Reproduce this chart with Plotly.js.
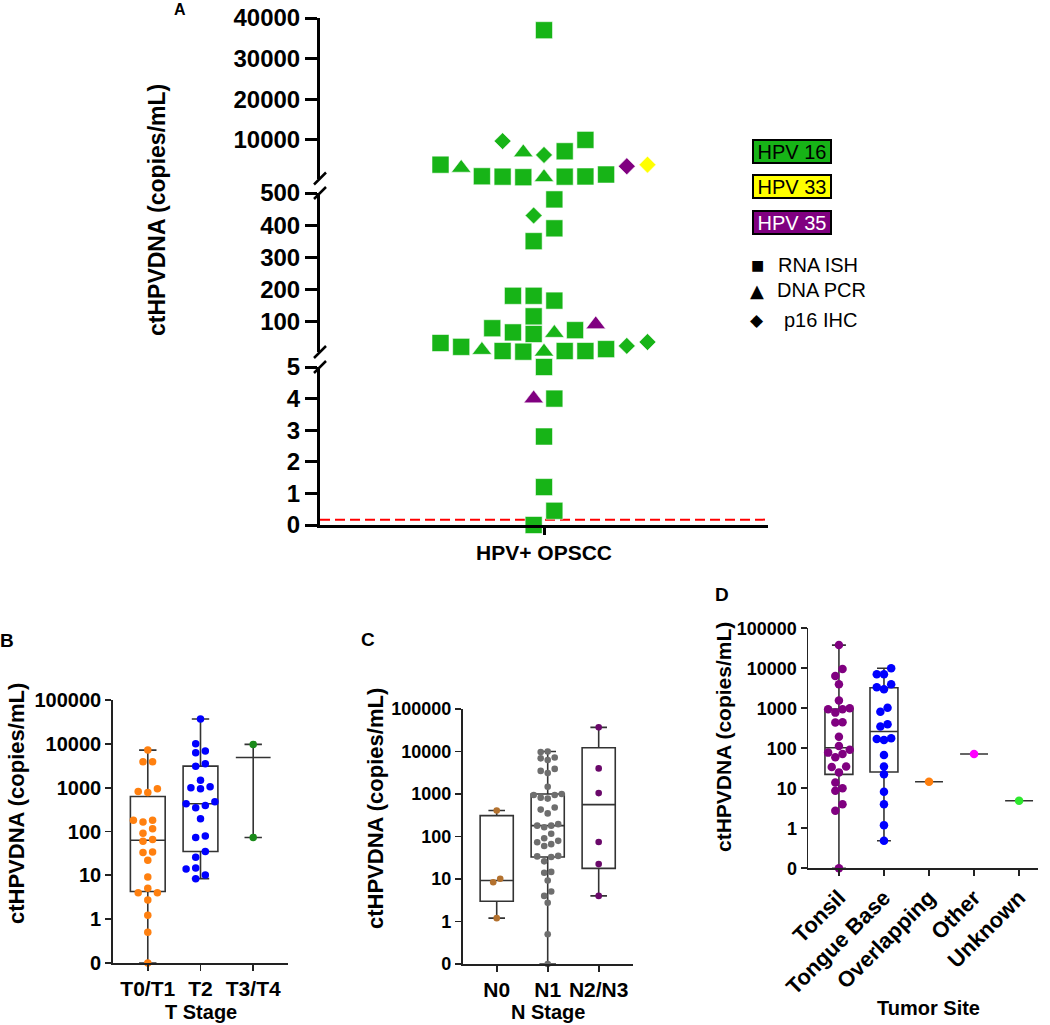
<!DOCTYPE html>
<html><head><meta charset="utf-8">
<script src="https://cdn.plot.ly/plotly-3.0.1.min.js"></script>
<style>html,body{margin:0;padding:0;background:#fff}#chart{width:1050px;height:1025px}</style>
</head><body><div id="chart"></div>
<script>
// ================= DATA =================
// Panel A : ctHPVDNA per patient, HPV serotype and detection method
const aCategory = 'HPV+ OPSCC';
const aValues = [37000, 10000, 9700, 7200, 6900, 6300, 3900, 3900, 3500, 3100, 1480, 1050, 1000, 950, 950, 820, 780,
  480, 430, 390, 350, 180, 180, 165, 116, 91, 79, 73, 66, 64, 61, 36, 33, 24, 21, 14, 11, 8, 8, 8, 6, 6,
  5, 4, 4, 2.8, 1.2, 0.45, 0];
const aSerotype = ['HPV 16','HPV 16','HPV 16','HPV 16','HPV 16','HPV 16','HPV 16','HPV 33','HPV 35','HPV 16','HPV 16','HPV 16','HPV 16','HPV 16','HPV 16','HPV 16','HPV 16',
  'HPV 16','HPV 16','HPV 16','HPV 16','HPV 16','HPV 16','HPV 16','HPV 16','HPV 35','HPV 16','HPV 16','HPV 16','HPV 16','HPV 16','HPV 16','HPV 16','HPV 16','HPV 16','HPV 16','HPV 16','HPV 16','HPV 16','HPV 16','HPV 16','HPV 16',
  'HPV 16','HPV 35','HPV 16','HPV 16','HPV 16','HPV 16','HPV 16'];
const aMethod = ['RNA ISH','RNA ISH','p16 IHC','RNA ISH','DNA PCR','p16 IHC','RNA ISH','p16 IHC','p16 IHC','DNA PCR','RNA ISH','RNA ISH','RNA ISH','RNA ISH','RNA ISH','RNA ISH','DNA PCR',
  'RNA ISH','p16 IHC','RNA ISH','RNA ISH','RNA ISH','RNA ISH','RNA ISH','RNA ISH','DNA PCR','RNA ISH','RNA ISH','RNA ISH','DNA PCR','RNA ISH','p16 IHC','RNA ISH','p16 IHC','RNA ISH','RNA ISH','DNA PCR','RNA ISH','RNA ISH','RNA ISH','DNA PCR','RNA ISH',
  'RNA ISH','DNA PCR','RNA ISH','RNA ISH','RNA ISH','RNA ISH','RNA ISH'];
const serotypeNames = ['HPV 16','HPV 33','HPV 35'];
const methodNames = ['RNA ISH','DNA PCR','p16 IHC'];
const aDetectionLimit = 0.17;
const aTicksTop = [10000, 20000, 30000, 40000];
const aTicksMid = [100, 200, 300, 400, 500];
const aTicksLow = [0, 1, 2, 3, 4, 5];

// Panel B : T stage
const tCats = ['T0/T1', 'T2', 'T3/T4'];
const tT0T1 = [7200, 3900, 3900, 950, 820, 780, 180, 180, 165, 116, 91, 66, 60, 34, 33, 22, 9.2, 5.1, 4, 4, 2.75, 1.23, 0.5, 0];
const tT2 = [37000, 10000, 6900, 6300, 3500, 3100, 1480, 1050, 1000, 950, 480, 430, 390, 350, 195, 79, 73, 35, 26, 14.7, 14, 10.2, 8.4];
const tT3T4 = [9700, 73];

// Panel C : N stage
const nCats = ['N0', 'N1', 'N2/N3'];
const nN0 = [410, 10.1, 8.4, 1.2];
const nN1 = [10000, 9700, 7200, 6900, 6300, 3900, 3500, 3100, 1480, 1000, 950, 950, 820, 780, 480, 430, 350, 195, 180, 180, 165, 116, 91, 79, 73, 66, 60, 35, 34, 33, 26, 14.7, 14, 9.2, 5.1, 4, 2.75, 0.5, 0];
const nN2N3 = [37000, 4000, 1050, 74, 22.4, 4];

// Panel D : tumor site
const siteCats = ['Tonsil', 'Tongue Base', 'Overlapping', 'Other', 'Unknown'];
const sTonsil = [38000, 9600, 6400, 4000, 1560, 1000, 950, 950, 780, 450, 440, 195, 114, 92, 78, 72, 60, 35, 34, 25, 14, 10, 8.7, 4, 2.75, 0];
const sTongueBase = [10000, 7100, 7100, 4000, 3350, 3000, 1030, 820, 400, 350, 178, 170, 162, 68, 35, 22.4, 8.2, 4, 1.2, 0.49];
const sOverlapping = [14.6];
const sOther = [72];
const sUnknown = [4.9];

// ================= STYLE / HELPERS =================
const W = 1050, H = 1025;
const FONT = 'Liberation Sans, Arial, Helvetica, sans-serif';
const serotypeColors = {'HPV 16': '#17b417', 'HPV 33': '#ffff00', 'HPV 35': '#800080'};
const methodSymbols = {'RNA ISH': 'square', 'DNA PCR': 'triangle-up', 'p16 IHC': 'diamond'};
const methodSizes = {'RNA ISH': 17, 'DNA PCR': 17, 'p16 IHC': 13};
const px = v => v / W, py = v => 1 - v / H;

function disp(v) { return v > 0 ? v : 0.1; }   // "0" is drawn at the bottom of the log axis
function pixY(dom, range, v, isLog) {
  const t = isLog ? Math.log10(v) : v;
  const f = dom[0] + (dom[1] - dom[0]) * (t - range[0]) / (range[1] - range[0]);
  return H * (1 - f);
}
function quantStats(vals) {
  const s = vals.map(disp).sort((a, b) => a - b), n = s.length;
  const q = p => { const pos = (n + 1) * p; if (pos <= 1) return s[0]; if (pos >= n) return s[n - 1];
    const lo = Math.floor(pos); return s[lo - 1] + (pos - lo) * (s[lo] - s[lo - 1]); };
  const med = q(0.5);
  return {min: s[0], max: s[n - 1], med, q1: n < 3 ? med : q(0.25), q3: n < 3 ? med : q(0.75)};
}
// scatter-dot arrangement (rows of near-equal values spread symmetrically)
function swarm(pys, S, Dy) {
  const n = pys.length;
  const order = [...Array(n).keys()].sort((a, b) => pys[b] - pys[a]);
  const rows = []; let cur = null;
  for (const i of order) {
    if (cur && cur.y0 - pys[i] < Dy) cur.idx.push(i);
    else { cur = {y0: pys[i], idx: [i]}; rows.push(cur); }
  }
  const off = new Array(n).fill(0), placed = [];
  for (const row of rows) {
    const k = row.idx.length, pos = [];
    for (let j = 0; j < k; j++) pos.push((j - (k - 1) / 2) * S);
    pos.sort((a, b) => Math.abs(a) - Math.abs(b) || a - b);
    const shifts = [0];
    for (let m = 1; m <= 16; m++) shifts.push(m * S / 2, -m * S / 2);
    let chosen = 0;
    for (const sh of shifts) {
      let ok = true;
      for (let j = 0; j < k && ok; j++) {
        const x = pos[j] + sh, y = pys[row.idx[j]];
        for (const p of placed) if (Math.abs(p.x - x) < S * 0.99 && Math.abs(p.y - y) < Dy * 0.99) { ok = false; break; }
      }
      if (ok) { chosen = sh; break; }
    }
    row.idx.forEach((i, j) => { off[i] = pos[j] + chosen; placed.push({x: off[i], y: pys[i]}); });
  }
  return off;
}

const traces = [];
const annotations = [];
const shapes = [];
const layout = {
  width: W, height: H, margin: {l: 0, r: 0, t: 0, b: 0},
  paper_bgcolor: '#fff', plot_bgcolor: 'rgba(0,0,0,0)',
  font: {family: FONT, color: '#000'}, showlegend: false, hovermode: false,
  annotations, shapes
};
function note(xp, yp, text, size, extra) {
  annotations.push(Object.assign({xref: 'paper', yref: 'paper', x: px(xp), y: py(yp), text, showarrow: false,
    xanchor: 'center', yanchor: 'middle', font: {family: FONT, size, color: '#000'}}, extra || {}));
}

// ================= PANEL A =================
const aX = {dom: [px(320), px(768)], range: [-10.8, 10.8]};
const aUnit = (768 - 320) / (aX.range[1] - aX.range[0]);
const aSegs = [
  {key: 'yaxis', ref: 'y', dom: [py(178.5), py(18)], range: [500, 40000], ticks: aTicksTop},
  {key: 'yaxis2', ref: 'y2', dom: [py(352), py(193)], range: [5, 500], ticks: aTicksMid},
  {key: 'yaxis3', ref: 'y3', dom: [py(525), py(367)], range: [0, 5], ticks: aTicksLow}
];
const segOf = v => v > aSegs[0].range[0] ? 0 : (v > aSegs[1].range[0] ? 1 : 2);
const aAxisStyle = {showline: true, linecolor: '#000', linewidth: 3, ticks: 'outside', ticklen: 12, tickwidth: 3,
  tickcolor: '#000', showgrid: false, zeroline: false, fixedrange: true,
  tickfont: {family: FONT, size: 24, color: '#000', weight: 'bold'}};
aSegs.forEach((sg, s) => {
  layout[sg.key] = Object.assign({}, aAxisStyle, {domain: sg.dom, range: sg.range, anchor: 'x',
    tickvals: sg.ticks, ticktext: sg.ticks.map(String)});
  const idx = aValues.map((v, i) => i).filter(i => segOf(aValues[i]) === s);
  const pys = idx.map(i => pixY(sg.dom, sg.range, aValues[i], false));
  const off = swarm(pys, 20.7, 17);
  methodNames.forEach(m => {
    const sub = idx.map((i, j) => [i, j]).filter(([i]) => aMethod[i] === m);
    if (!sub.length) return;
    traces.push({type: 'scatter', mode: 'markers', xaxis: 'x', yaxis: sg.ref, cliponaxis: false,
      x: sub.map(([i, j]) => off[j] / aUnit), y: sub.map(([i]) => aValues[i]),
      marker: {symbol: methodSymbols[m], size: methodSizes[m], color: sub.map(([i]) => serotypeColors[aSerotype[i]]),
        line: {color: 'rgba(255,255,255,0.55)', width: 1}},
      hoverinfo: 'skip', showlegend: false});
  });
});
layout.xaxis = Object.assign({}, aAxisStyle, {domain: aX.dom, range: aX.range, anchor: 'y3', ticklen: 7,
  tickvals: [0], ticktext: [aCategory], tickfont: {family: FONT, size: 21, color: '#000', weight: 'bold'}});
shapes.push({type: 'line', xref: 'x', yref: 'y3', x0: aX.range[0], x1: aX.range[1], y0: aDetectionLimit, y1: aDetectionLimit,
  line: {color: '#ff0000', width: 2, dash: '10px,5px'}, layer: 'below'});
[178.5, 193, 352, 367].forEach(yb => shapes.push({type: 'line', xref: 'paper', yref: 'paper',
  x0: px(314), x1: px(326), y0: py(yb + 6), y1: py(yb - 6), line: {color: '#000', width: 2.5}}));
note(157, 210, '<b>ctHPVDNA (copies/mL)</b>', 23, {textangle: -90});
note(180, 9, '<b>A</b>', 16);
// legend
const legCenters = [151, 186.5, 222.5];
serotypeNames.forEach((nm, i) => note(791.5, legCenters[i], nm, 20, {bgcolor: serotypeColors[nm], bordercolor: '#000',
  borderwidth: 2, borderpad: 0, width: 76, height: 21, align: 'center', valign: 'middle',
  font: {family: FONT, size: 20, color: nm === 'HPV 35' ? '#fff' : '#000'}}));
const legGlyph = {'RNA ISH': '■', 'DNA PCR': '▲', 'p16 IHC': '◆'};
const legGlyphSize = {'RNA ISH': 14, 'DNA PCR': 18, 'p16 IHC': 17};
const legRows = [265, 290, 320];
const legTextX = [776, 775, 782];
methodNames.forEach((m, i) => {
  note(757, legRows[i], legGlyph[m], legGlyphSize[m], {font: {family: 'DejaVu Sans', size: legGlyphSize[m], color: '#000'}});
  note(legTextX[i], legRows[i], m, 20, {xanchor: 'left'});
});

// ================= PANELS B, C, D =================
const logTickVals = [0.1, 1, 10, 100, 1000, 10000, 100000];
const logTickText = ['0', '1', '10', '100', '1000', '10000', '100000'];
const smallAx = {showline: true, linecolor: '#222', linewidth: 1.8, ticks: 'outside', ticklen: 6, tickwidth: 1.8,
  tickcolor: '#222', showgrid: false, zeroline: false, fixedrange: true};
function boxPanel(c) {
  const yr = [-1, 5];
  layout[c.xkey] = Object.assign({}, smallAx, {domain: c.xdom, range: c.xrange, anchor: c.ya,
    tickvals: c.cats.map((_, i) => i), ticktext: c.cats, tickangle: c.tickangle || 0,
    tickfont: {family: FONT, size: c.xfont, color: '#000', weight: 'bold'}});
  layout[c.ykey] = Object.assign({}, smallAx, {domain: c.ydom, range: yr, type: 'log', anchor: c.xa,
    tickvals: logTickVals, ticktext: logTickText, tickfont: {family: FONT, size: c.yfont, color: '#000', weight: 'bold'}});
  const unit = (c.xdom[1] - c.xdom[0]) * W / (c.xrange[1] - c.xrange[0]);
  c.groups.forEach((vals, gi) => {
    const st = quantStats(vals);
    traces.push({type: 'box', xaxis: c.xa, yaxis: c.ya, x: [gi], q1: [st.q1], median: [st.med], q3: [st.q3],
      lowerfence: [st.min], upperfence: [st.max], width: c.boxW, whiskerwidth: 0.5, boxpoints: false,
      line: {color: '#333', width: 1.6}, fillcolor: 'rgba(0,0,0,0)', hoverinfo: 'skip', showlegend: false});
  });
  c.groups.forEach((vals, gi) => {
    const ys = vals.map(disp);
    const pys = ys.map(v => pixY(c.ydom, yr, v, true));
    const off = swarm(pys, c.S, c.Dy);
    traces.push({type: 'scatter', mode: 'markers', xaxis: c.xa, yaxis: c.ya, cliponaxis: false,
      x: off.map(o => gi + o / unit), y: ys, marker: {color: c.colors[gi], size: c.size},
      hoverinfo: 'skip', showlegend: false});
  });
  note(c.titleX, c.titleY, '<b>ctHPVDNA (copies/mL)</b>', c.titleSize || 22, {textangle: -90});
  note(c.letterX, c.letterY, '<b>' + c.letter + '</b>', 19);
  note(c.xtitleX, c.xtitleY, '<b>' + c.xtitle + '</b>', 20);
}
boxPanel({xa: 'x2', ya: 'y4', xkey: 'xaxis2', ykey: 'yaxis4', xdom: [px(113), px(288)], xrange: [-0.66, 2.66],
  ydom: [py(963), py(700)], cats: tCats, groups: [tT0T1, tT2, tT3T4], colors: ['#ff8010', '#0000ff', '#1a8a1a'],
  S: 9.6, Dy: 7.3, size: 7.5, boxW: 0.66, xfont: 21, yfont: 20,
  titleX: 16, titleY: 804, letter: 'B', letterX: 7, letterY: 640, xtitle: 'T Stage', xtitleX: 201, xtitleY: 1012});
boxPanel({xa: 'x3', ya: 'y5', xkey: 'xaxis3', ykey: 'yaxis5', xdom: [px(462.7), px(632.7)], xrange: [-0.667, 2.667],
  ydom: [py(964), py(709)], cats: nCats, groups: [nN0, nN1, nN2N3], colors: ['#b3712e', '#6e6e6e', '#6a086a'],
  S: 7, Dy: 6.3, size: 6.6, boxW: 0.65, xfont: 21, yfont: 18,
  titleX: 375, titleY: 809, letter: 'C', letterX: 368, letterY: 639, xtitle: 'N Stage', xtitleX: 548, xtitleY: 1012});
boxPanel({xa: 'x4', ya: 'y6', xkey: 'xaxis4', ykey: 'yaxis6', xdom: [px(808.3), px(1038)], xrange: [-0.68, 4.42],
  ydom: [py(868.3), py(628.3)], cats: siteCats, groups: [sTonsil, sTongueBase, sOverlapping, sOther, sUnknown],
  colors: ['#800080', '#0000ff', '#ff7f0e', '#ff00ff', '#2ee82e'],
  S: 7.2, Dy: 7.5, size: 8.5, boxW: 0.62, xfont: 22, yfont: 18, tickangle: -45, titleSize: 21,
  titleX: 723, titleY: 737, letter: 'D', letterX: 722, letterY: 594, xtitle: 'Tumor Site', xtitleX: 928, xtitleY: 1008});

Plotly.newPlot('chart', traces, layout, {staticPlot: true, displayModeBar: false});
</script>
</body></html>
